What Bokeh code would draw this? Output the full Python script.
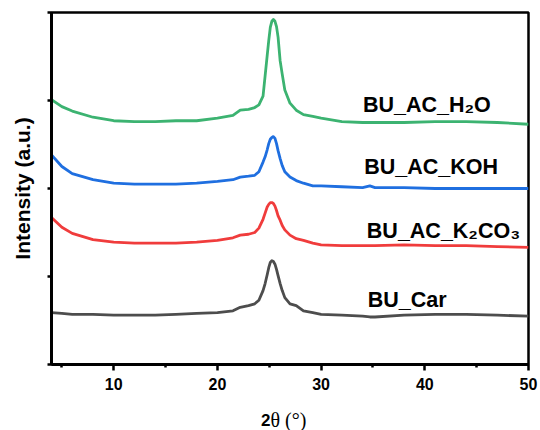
from bokeh.plotting import figure
from bokeh.layouts import column
from bokeh.models import Range1d, FixedTicker, CustomJSTickFormatter, Label
from bokeh.embed import file_html
from bokeh.resources import INLINE

# 2-theta grid (degrees)
two_theta = [4, 5, 6, 8, 10, 12, 14, 16, 18, 20, 21.5, 22.2, 23, 23.6,
             24.0, 24.4, 24.6, 24.8, 24.95, 25.1, 25.25, 25.4, 25.55, 25.7, 25.85, 26.05, 26.25, 26.5,
             27.0, 27.6, 28.3, 29.2, 30, 32, 34, 34.7, 35.2, 38, 41, 44, 47, 50]

# Intensities (a.u., offset-stacked as drawn)
bu_ac_h2o = [3.01, 2.93, 2.88, 2.81, 2.77, 2.76, 2.76, 2.77, 2.77, 2.80, 2.83, 2.89, 2.90, 2.92,
             2.95, 3.05, 3.28, 3.51, 3.68, 3.83, 3.90, 3.92, 3.90, 3.84, 3.72, 3.45, 3.30, 3.12,
             2.97, 2.89, 2.84, 2.82, 2.80, 2.76, 2.75, 2.75, 2.75, 2.75, 2.76, 2.76, 2.75, 2.73]
bu_ac_koh = [2.38, 2.25, 2.17, 2.10, 2.06, 2.05, 2.05, 2.05, 2.06, 2.08, 2.10, 2.13, 2.14, 2.15,
             2.19, 2.30, 2.36, 2.44, 2.51, 2.56, 2.58, 2.59, 2.57, 2.51, 2.43, 2.34, 2.26, 2.19,
             2.13, 2.09, 2.06, 2.03, 2.03, 2.02, 2.01, 2.03, 2.01, 2.01, 2.00, 2.00, 2.00, 2.00]
bu_ac_k2co3 = [1.67, 1.56, 1.49, 1.42, 1.39, 1.38, 1.38, 1.38, 1.39, 1.41, 1.44, 1.47, 1.48, 1.50,
               1.55, 1.65, 1.72, 1.79, 1.82, 1.84, 1.84, 1.83, 1.80, 1.75, 1.69, 1.64, 1.58, 1.53,
               1.47, 1.43, 1.41, 1.38, 1.36, 1.35, 1.35, 1.35, 1.35, 1.36, 1.35, 1.35, 1.34, 1.33]
bu_car = [0.59, 0.58, 0.57, 0.57, 0.56, 0.56, 0.56, 0.57, 0.58, 0.59, 0.61, 0.65, 0.67, 0.69,
          0.73, 0.84, 0.92, 1.02, 1.10, 1.16, 1.18, 1.17, 1.14, 1.08, 1.01, 0.92, 0.84, 0.76,
          0.69, 0.67, 0.61, 0.59, 0.57, 0.56, 0.55, 0.54, 0.54, 0.56, 0.57, 0.57, 0.56, 0.55]

series_names = ["BU_AC_H\u2082O", "BU_AC_KOH", "BU_AC_K\u2082CO\u2083", "BU_Car"]
series_colors = ["#3cb371", "#1f6fe0", "#f03c3c", "#4d4d4d"]
label_x = [40.2, 40.6, 41.8, 38.3]
label_y = [2.95, 2.24, 1.52, 0.73]

x_major = [10, 20, 30, 40, 50]
x_minor = [5, 15, 25, 35, 45]
y_major = [0, 1, 2, 3, 4]

p = figure(frame_width=477, frame_height=352, output_backend="svg", toolbar_location=None,
           x_range=Range1d(4, 50), y_range=Range1d(0, 4),
           min_border_left=51, min_border_right=12, min_border_top=12, min_border_bottom=34)
p.background_fill_color = "white"
p.border_fill_color = "white"
p.grid.visible = False
p.outline_line_color = "black"
p.outline_line_width = 2.5
p.outline_line_alpha = 1

for ys, c in zip([bu_ac_h2o, bu_ac_koh, bu_ac_k2co3, bu_car], series_colors):
    p.line(two_theta, ys, line_color=c, line_width=2.8, line_join="round")

for name, lx, ly in zip(series_names, label_x, label_y):
    p.add_layout(Label(x=lx, y=ly, text=name, text_align="center", text_baseline="middle",
                       text_font="Liberation Sans", text_font_style="bold",
                       text_font_size="21.5px", text_color="black"))

# x axis
p.xaxis.ticker = FixedTicker(ticks=x_major, minor_ticks=x_minor)
p.xaxis.axis_line_width = 3
p.xaxis.major_tick_line_width = 2.5
p.xaxis.minor_tick_line_width = 2.5
p.xaxis.major_tick_in = 0
p.xaxis.major_tick_out = 6
p.xaxis.minor_tick_in = 0
p.xaxis.minor_tick_out = 3
p.xaxis.major_label_text_font = "Liberation Sans"
p.xaxis.major_label_text_font_style = "bold"
p.xaxis.major_label_text_font_size = "16px"
p.xaxis.major_label_text_color = "black"
p.xaxis.major_label_standoff = 7

# y axis
p.yaxis.ticker = FixedTicker(ticks=y_major, minor_ticks=[])
p.yaxis.formatter = CustomJSTickFormatter(code="return ''")
p.yaxis.axis_line_width = 3
p.yaxis.major_tick_line_width = 2.5
p.yaxis.major_tick_in = 0
p.yaxis.major_tick_out = 4
p.yaxis.major_label_standoff = 0
p.yaxis.axis_label = "Intensity (a.u.)"
p.yaxis.axis_label_text_font = "Liberation Sans"
p.yaxis.axis_label_text_font_style = "bold"
p.yaxis.axis_label_text_font_size = "21px"
p.yaxis.axis_label_text_color = "black"
p.yaxis.axis_label_standoff = 14

# x axis title strip: bold "2" + serif "θ (°)"
t = figure(width=540, height=32, output_backend="svg", toolbar_location=None,
           x_axis_location=None, y_axis_location=None, min_border=0,
           x_range=Range1d(0, 1), y_range=Range1d(0, 1))
t.outline_line_color = None
t.grid.visible = False
t.background_fill_color = "white"
t.border_fill_color = "white"
t.add_layout(Label(x=270, y=21, x_units="canvas", y_units="canvas", text="2",
                   text_align="right", text_baseline="alphabetic",
                   text_font="Liberation Sans", text_font_style="bold", text_font_size="17px",
                   text_color="black"))
t.add_layout(Label(x=270, y=21, x_units="canvas", y_units="canvas", text="\u03b8 (\u00b0)",
                   text_align="left", text_baseline="alphabetic", text_font="Liberation Serif",
                   text_font_style="normal", text_font_size="20px", text_color="black"))

layout = column(p, t, spacing=0)
open("out.html", "w").write(file_html(layout, INLINE))
